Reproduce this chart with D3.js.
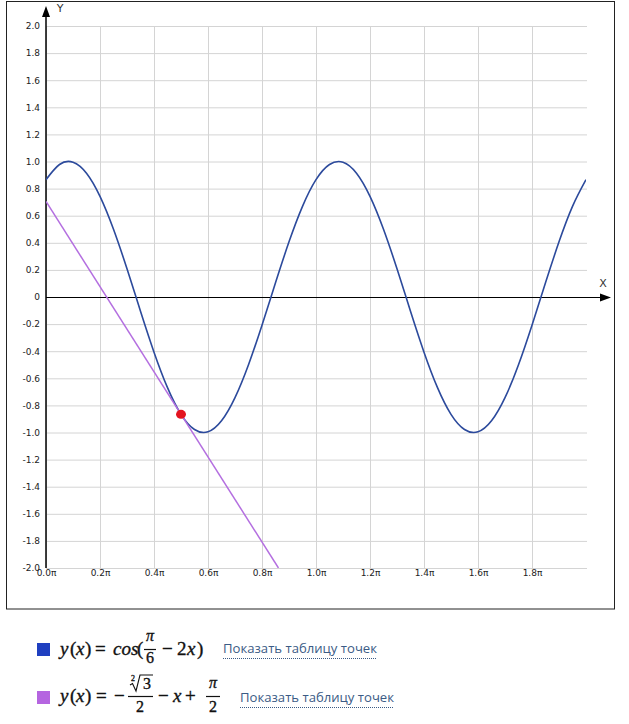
<!DOCTYPE html>
<html><head><meta charset="utf-8">
<script src="https://cdn.jsdelivr.net/npm/d3@7/dist/d3.min.js"></script>
<style>
body{margin:0;background:#fff;}
svg{display:block;}
</style></head>
<body>
<svg id="chart" width="629" height="724"></svg>
<script>
// ---- data (x in units of π) ----
const curveX = [0,0.05,0.1,0.15,0.2,0.25,0.3,0.35,0.4,0.45,0.5,0.55,0.6,0.65,0.7,0.75,0.8,0.85,0.9,0.95,
  1.0,1.05,1.1,1.15,1.2,1.25,1.3,1.35,1.4,1.45,1.5,1.55,1.6,1.65,1.7,1.75,1.8,1.85,1.9,1.95,2.0];
const curveY = [0.866,0.978,0.995,0.914,0.743,0.5,0.208,-0.105,-0.407,-0.669,-0.866,-0.978,-0.995,-0.914,-0.743,-0.5,-0.208,0.105,0.407,0.669,
  0.866,0.978,0.995,0.914,0.743,0.5,0.208,-0.105,-0.407,-0.669,-0.866,-0.978,-0.995,-0.914,-0.743,-0.5,-0.208,0.105,0.407,0.669,0.866];
const tangentX = [0, 0.861];
const tangentY = [0.705, -2.0];
const pointX = [0.5];
const pointY = [-0.866];
const xTicks = [0,0.2,0.4,0.6,0.8,1.0,1.2,1.4,1.6,1.8];
const xTickLabels = ["0.0π","0.2π","0.4π","0.6π","0.8π","1.0π","1.2π","1.4π","1.6π","1.8π"];
const yTicks = [-2.0,-1.8,-1.6,-1.4,-1.2,-1.0,-0.8,-0.6,-0.4,-0.2,0,0.2,0.4,0.6,0.8,1.0,1.2,1.4,1.6,1.8,2.0];
const yTickLabels = ["-2.0","-1.8","-1.6","-1.4","-1.2","-1.0","-0.8","-0.6","-0.4","-0.2","0","0.2","0.4","0.6","0.8","1.0","1.2","1.4","1.6","1.8","2.0"];
const linkText = "Показать таблицу точек";

const svg = d3.select("#chart");
const L = 46, R = 586, T = 26, B = 568;
const x = d3.scaleLinear().domain([0, 2]).range([L, R]);
const y = d3.scaleLinear().domain([-2, 2]).range([B, T]);

// frame
svg.append("rect").attr("x",6.5).attr("y",1.5).attr("width",608).attr("height",607.5)
  .attr("fill","#fff").attr("stroke","#222").attr("stroke-width",1);

const tickFont = "DejaVu Sans, Verdana, sans-serif";
// horizontal grid + y labels
const gy = svg.append("g").attr("transform",`translate(${L},0)`)
  .call(d3.axisLeft(y).tickValues(yTicks).tickSize(-(R - L + 1)).tickPadding(6)
    .tickFormat((d,i)=>yTickLabels[i]));
gy.select(".domain").remove();
gy.selectAll(".tick line").attr("stroke","#d4d4d4");
gy.selectAll(".tick text").attr("font-family",tickFont).attr("font-size",9).attr("fill","#222");

// vertical grid + x labels
const gx = svg.append("g").attr("transform",`translate(0,${B})`)
  .call(d3.axisBottom(x).tickValues(xTicks).tickSize(-(B - T)).tickPadding(2)
    .tickFormat((d,i)=>xTickLabels[i]));
gx.select(".domain").remove();
gx.selectAll(".tick line").attr("stroke","#d4d4d4");
gx.selectAll(".tick text").attr("font-family",tickFont).attr("font-size",9).attr("fill","#222");

// axes
svg.append("line").attr("x1",L).attr("x2",601).attr("y1",y(0)+0.5).attr("y2",y(0)+0.5)
  .attr("stroke","#000").attr("stroke-width",1.2);
svg.append("path").attr("d",`M611,${y(0)+0.5} L600,${y(0)-3.5} L600,${y(0)+4.5} Z`).attr("fill","#000");
svg.append("line").attr("x1",L).attr("x2",L).attr("y1",B).attr("y2",16)
  .attr("stroke","#000").attr("stroke-width",1.5);
svg.append("path").attr("d",`M${L},6 L${L-4},17 L${L+4},17 Z`).attr("fill","#000");
svg.append("text").attr("x",603).attr("y",287).attr("text-anchor","middle")
  .attr("font-family",tickFont).attr("font-size",11).attr("fill","#333").text("X");
svg.append("text").attr("x",60).attr("y",12).attr("text-anchor","middle")
  .attr("font-family",tickFont).attr("font-size",11).attr("fill","#333").text("Y");

// clip
svg.append("clipPath").attr("id","plotclip").append("rect")
  .attr("x",L).attr("y",T).attr("width",R-L).attr("height",B-T);
const plot = svg.append("g").attr("clip-path","url(#plotclip)");

const curveData = curveX.map((d,i)=>[d, curveY[i]]);
plot.append("path").datum(curveData)
  .attr("d", d3.line().x(d=>x(d[0])).y(d=>y(d[1])).curve(d3.curveNatural))
  .attr("fill","none").attr("stroke","#2c4a9c").attr("stroke-width",1.6);

const tanData = tangentX.map((d,i)=>[d, tangentY[i]]);
plot.append("path").datum(tanData)
  .attr("d", d3.line().x(d=>x(d[0])).y(d=>y(d[1])))
  .attr("fill","none").attr("stroke","#b46fe0").attr("stroke-width",1.5);

svg.selectAll("ellipse.pt").data(pointX.map((d,i)=>[d,pointY[i]])).enter()
  .append("ellipse").attr("class","pt")
  .attr("cx",d=>x(d[0])).attr("cy",d=>y(d[1])).attr("rx",5).attr("ry",4.5)
  .attr("fill","#e3141f");

// ---- legend ----
const mathFont = "Liberation Serif, DejaVu Serif, serif";
function mt(g, px, py, str, opts={}) {
  return g.append("text").attr("x",px).attr("y",py)
    .attr("font-family",mathFont).attr("font-size",opts.size||19)
    .attr("font-style",opts.italic?"italic":"normal")
    .attr("text-anchor",opts.anchor||"start")
    .attr("fill","#111").attr("stroke","#111").attr("stroke-width",0.35).text(str);
}
const lg = svg.append("g");
// row 1
lg.append("rect").attr("x",37).attr("y",643).attr("width",13).attr("height",13).attr("fill","#1f3fc0");
let b1 = 655;
mt(lg,60,b1,"y",{italic:true}); mt(lg,70,b1,"("); mt(lg,76,b1,"x",{italic:true}); mt(lg,85,b1,")");
mt(lg,95,b1,"=");
mt(lg,113,b1,"cos",{italic:true}); mt(lg,137,b1,"(");
mt(lg,150,b1-14,"π",{italic:true,anchor:"middle",size:16});
lg.append("line").attr("x1",144).attr("x2",156).attr("y1",b1-5.5).attr("y2",b1-5.5).attr("stroke","#111").attr("stroke-width",1.2);
mt(lg,150,b1+8,"6",{anchor:"middle",size:16});
mt(lg,162,b1,"−"); mt(lg,177,b1,"2"); mt(lg,187,b1,"x",{italic:true}); mt(lg,197,b1,")");
// row 2
lg.append("rect").attr("x",37).attr("y",691).attr("width",13).attr("height",13).attr("fill","#b565e0");
let b2 = 702;
mt(lg,60,b2,"y",{italic:true}); mt(lg,70,b2,"("); mt(lg,76,b2,"x",{italic:true}); mt(lg,85,b2,")");
mt(lg,96,b2,"=");
mt(lg,114,b2,"−");
// radical drawn as a path, index as small text
lg.append("path").attr("d",`M130,${b2-17} L132.5,${b2-18.5} L136,${b2-11} L140,${b2-27} L153,${b2-27}`)
  .attr("fill","none").attr("stroke","#111").attr("stroke-width",1.1);
mt(lg,131,b2-21,"2",{size:8});
mt(lg,147,b2-13,"3",{anchor:"middle",size:16});
lg.append("line").attr("x1",128).attr("x2",153).attr("y1",b2-5.5).attr("y2",b2-5.5).attr("stroke","#111").attr("stroke-width",1.2);
mt(lg,140,b2+10,"2",{anchor:"middle",size:16});
mt(lg,158,b2,"−"); mt(lg,173,b2,"x",{italic:true}); mt(lg,185,b2,"+");
mt(lg,213,b2-14,"π",{italic:true,anchor:"middle",size:16});
lg.append("line").attr("x1",206).attr("x2",220).attr("y1",b2-5.5).attr("y2",b2-5.5).attr("stroke","#111").attr("stroke-width",1.2);
mt(lg,213,b2+10,"2",{anchor:"middle",size:16});

// links
function link(px, py) {
  lg.append("text").attr("x",px).attr("y",py).attr("font-family","Open Sans, DejaVu Sans, sans-serif")
    .attr("font-size",13).attr("fill","#3b5b85").attr("textLength",154).attr("lengthAdjust","spacingAndGlyphs")
    .text(linkText);
  lg.append("line").attr("x1",px).attr("x2",px+154).attr("y1",py+5.5).attr("y2",py+5.5)
    .attr("stroke","#3b5b85").attr("stroke-width",1).attr("stroke-dasharray","1,1");
}
link(223, 653);
link(240, 702);
</script>
</body></html>
